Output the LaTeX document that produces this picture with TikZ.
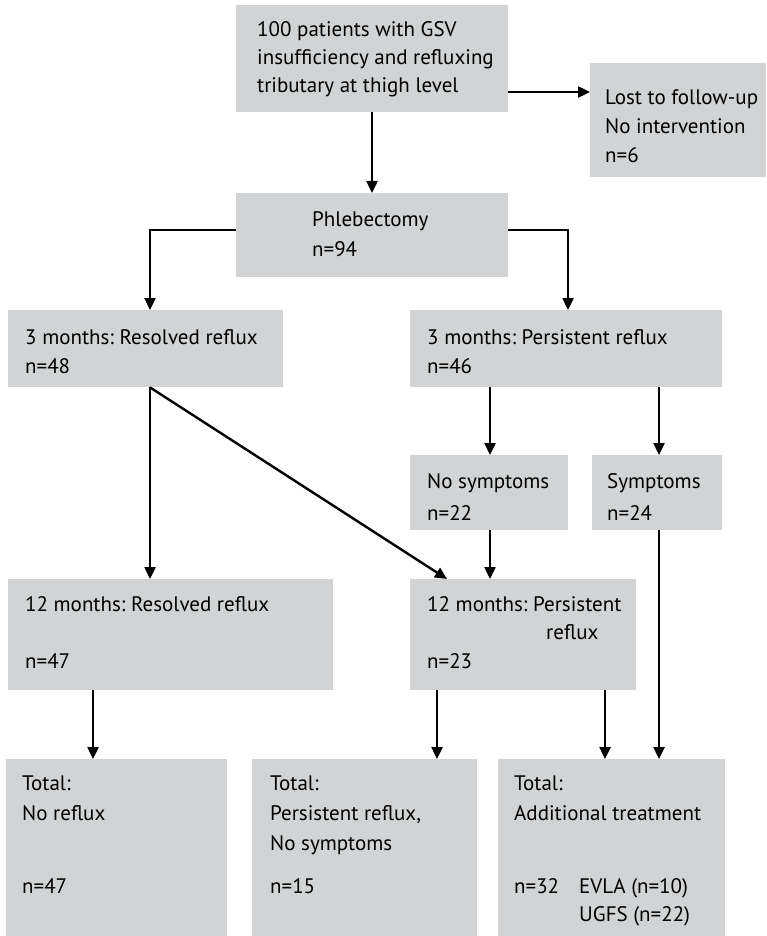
\documentclass[tikz,border=0pt]{standalone}
\usepackage{fontspec}
\setmainfont{PT Sans}
\usetikzlibrary{arrows.meta,calc}
\definecolor{boxgray}{RGB}{209,211,212}
\tikzset{
  box/.style={fill=boxgray, draw=none, inner sep=0pt, anchor=north west},
  txt/.style={anchor=base west, inner sep=0pt, font=\fontsize{21}{25}\selectfont},
  arr/.style={line width=2.4pt, -{Triangle[length=12pt,width=11pt]}},
}
\begin{document}
\frenchspacing
\begin{tikzpicture}[x=1pt,y=-1pt]
\useasboundingbox (0,0) rectangle (766,936);
% boxes
\node[box, minimum width=272pt, minimum height=107pt] (top) at (236,5) {};
\node[box, minimum width=176pt, minimum height=114pt] (lost) at (590,63) {};
\node[box, minimum width=272pt, minimum height=84pt] (phleb) at (236,193) {};
\node[box, minimum width=275pt, minimum height=77pt] (r3L) at (8,310) {};
\node[box, minimum width=312pt, minimum height=77pt] (r3R) at (410,310) {};
\node[box, minimum width=158pt, minimum height=75pt] (nos) at (410,455) {};
\node[box, minimum width=130pt, minimum height=75pt] (sym) at (592,455) {};
\node[box, minimum width=325pt, minimum height=111pt] (m12L) at (8,579) {};
\node[box, minimum width=226pt, minimum height=111pt] (m12R) at (410,579) {};
\node[box, minimum width=221pt, minimum height=178pt] (totL) at (6,759) {};
\node[box, minimum width=225pt, minimum height=178pt] (totM) at (252,759) {};
\node[box, minimum width=227pt, minimum height=178pt] (totR) at (498,759) {};
% texts
\node[txt] (t1) at (257,37) {100 patients with GSV};
\node[txt] (t2) at (257,65) {insufficiency and refluxing};
\node[txt] (t3) at (257,93) {tributary at thigh level};
\node[txt] (l1) at (605,105) {Lost to follow-up};
\node[txt] (l2) at (605,134) {No intervention};
\node[txt] (l3) at (605,163) {n=6};
\node[txt] (p1) at (312,226) {Phlebectomy};
\node[txt] (p2) at (312,256) {n=94};
\node[txt] (a1) at (25,344) {3 months: Resolved reflux};
\node[txt] (a2) at (25,373) {n=48};
\node[txt] (b1) at (427,344) {3 months: Persistent reflux};
\node[txt] (b2) at (427,373) {n=46};
\node[txt] (c1) at (427,488) {No symptoms};
\node[txt] (c2) at (427,520) {n=22};
\node[txt] (d1) at (607,488) {Symptoms};
\node[txt] (d2) at (607,520) {n=24};
\node[txt] (e1) at (25,611) {12 months: Resolved reflux};
\node[txt] (e2) at (25,668) {n=47};
\node[txt] (f1) at (427,611) {12 months: Persistent};
\node[txt] (f2) at (546,639) {reflux};
\node[txt] (f3) at (427,668) {n=23};
\node[txt] (g1) at (22,790) {Total:};
\node[txt] (g2) at (22,820) {No reflux};
\node[txt] (g3) at (22,893) {n=47};
\node[txt] (h1) at (270,790) {Total:};
\node[txt] (h2) at (270,820) {Persistent reflux,};
\node[txt] (h3) at (270,850) {No symptoms};
\node[txt] (h4) at (270,893) {n=15};
\node[txt] (k1) at (514,790) {Total:};
\node[txt] (k2) at (514,820) {Additional treatment};
\node[txt] (k3) at (514,893) {n=32};
\node[txt] (k4) at (579,893) {EVLA (n=10)};
\node[txt] (k5) at (579,921) {UGFS (n=22)};
% connectors
\coordinate (yA) at (0,92);
\coordinate (xA) at (372,0);
\coordinate (yB) at (0,230);
\coordinate (xL) at (150,0);
\coordinate (xR) at (568,0);
\coordinate (xN) at (490,0);
\coordinate (xS) at (659,0);
\coordinate (xD) at (447,0);
\coordinate (x12L) at (93,0);
\coordinate (x12M) at (437,0);
\coordinate (x12R) at (605,0);
\draw[arr] (top.east |- yA) -- (lost.west |- yA);
\draw[arr] (top.south -| xA) -- (phleb.north -| xA);
\draw[arr] (phleb.west |- yB) -| (r3L.north -| xL);
\draw[arr] (phleb.east |- yB) -| (r3R.north -| xR);
\draw[arr] (r3L.south -| xL) -- (m12L.north -| xL);
\draw[arr] (r3L.south -| xL) -- (m12R.north -| xD);
\draw[arr] (r3R.south -| xN) -- (nos.north -| xN);
\draw[arr] (r3R.south -| xS) -- (sym.north -| xS);
\draw[arr] (nos.south -| xN) -- (m12R.north -| xN);
\draw[arr] (sym.south -| xS) -- (totR.north -| xS);
\draw[arr] (m12L.south -| x12L) -- (totL.north -| x12L);
\draw[arr] (m12R.south -| x12M) -- (totM.north -| x12M);
\draw[arr] (m12R.south -| x12R) -- (totR.north -| x12R);
\end{tikzpicture}
\end{document}
